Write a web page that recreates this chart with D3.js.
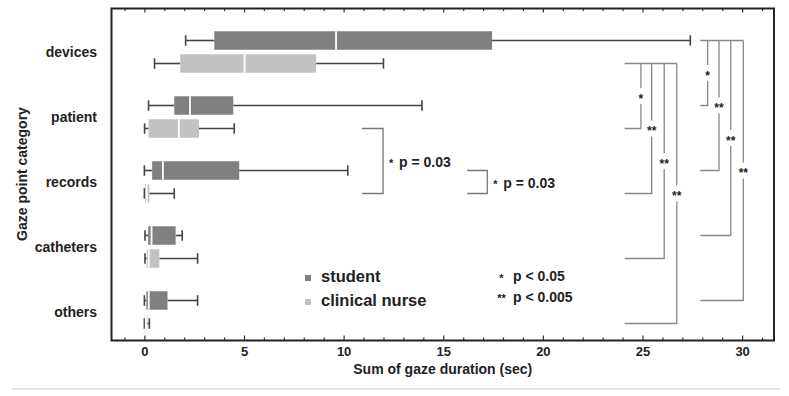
<!DOCTYPE html>
<html>
<head>
<meta charset="utf-8">
<script src="https://cdn.jsdelivr.net/npm/d3@7"></script>
<style>
  body { margin: 0; background: #fff; }
  text { font-family: "Liberation Sans", Arial, sans-serif; font-weight: bold; fill: #222; }
</style>
</head>
<body>
<svg id="chart" width="789" height="396"></svg>
<script>
// categories and groups
const categories = ["devices", "patient", "records", "catheters", "others"];
const groups = ["student", "clinical nurse"];

// box statistics (sec)
const studentMin    = [2.07, 0.21, 0.00, 0.03, 0.00];
const studentQ1     = [3.51, 1.50, 0.39, 0.19, 0.10];
const studentMedian = [9.62, 2.29, 0.93, 0.36, 0.22];
const studentQ3     = [17.45, 4.46, 4.76, 1.57, 1.16];
const studentMax    = [27.4, 13.93, 10.21, 1.90, 2.67];

const nurseMin    = [0.51, 0.01, 0.00, 0.03, 0.00];
const nurseQ1     = [1.80, 0.21, 0.03, 0.12, 0.02];
const nurseMedian = [5.03, 1.73, 0.12, 0.22, 0.08];
const nurseQ3     = [8.62, 2.74, 0.25, 0.75, 0.15];
const nurseMax    = [12.0, 4.51, 1.50, 2.67, 0.25];

// x axis ticks
const majorTicks = [0, 5, 10, 15, 20, 25, 30];
const minorTicks = d3.range(-1, 32).filter(d => d % 5 !== 0);

// significance: devices vs the other categories, within each group
const sigTargets = ["patient", "records", "catheters", "others"];
const nurseSigLabels = ["*", "**", "**", "**"];
const studentSigLabels = ["*", "**", "**", "**"];

// pairwise tests shown with p values
const pairFrom = [["patient", "clinical nurse"], ["records", "student"]];
const pairTo = [["records", "clinical nurse"], ["records", "clinical nurse"]];
const pairText = ["p = 0.03", "p = 0.03"];

// significance legend
const sigLegendStars = ["*", "**"];
const sigLegendText = ["p < 0.05", "p < 0.005"];

const colors = { "student": "#808080", "clinical nurse": "#c2c2c2" };

const svg = d3.select("#chart");
const plotLeft = 111.5, plotRight = 774, plotTop = 8.5, plotBottom = 340.5;

const x = d3.scaleLinear().domain([-1.65, 31.6]).range([plotLeft, plotRight]);
const y = d3.scalePoint().domain(categories).range([52, 312]);
const offset = d3.scalePoint().domain(groups).range([-11.5, 11.5]);
const boxH = 18.5, capH = 10.5;

const rows = [];
categories.forEach((c, i) => {
    rows.push({ cat: c, group: "student", min: studentMin[i], q1: studentQ1[i], med: studentMedian[i], q3: studentQ3[i], max: studentMax[i] });
    rows.push({ cat: c, group: "clinical nurse", min: nurseMin[i], q1: nurseQ1[i], med: nurseMedian[i], q3: nurseQ3[i], max: nurseMax[i] });
});
const cy = d => y(d.cat) + offset(d.group);

// axes (ticks point inward)
const axisG = svg.append("g");
axisG.append("g")
    .attr("transform", `translate(0,${plotBottom})`)
    .call(d3.axisBottom(x).tickValues(majorTicks).tickSize(-5).tickPadding(6))
    .call(g => g.select(".domain").remove())
    .call(g => g.selectAll("text").style("font-size", "13px").attr("fill", "#222"));
axisG.append("g")
    .attr("transform", `translate(0,${plotBottom})`)
    .call(d3.axisBottom(x).tickValues(minorTicks).tickSize(-3).tickFormat(""))
    .call(g => g.select(".domain").remove());
axisG.append("g")
    .attr("transform", `translate(0,${plotTop})`)
    .call(d3.axisTop(x).tickValues(majorTicks).tickSize(-4).tickFormat(""))
    .call(g => g.select(".domain").remove());
axisG.append("g")
    .attr("transform", `translate(0,${plotTop})`)
    .call(d3.axisTop(x).tickValues(minorTicks).tickSize(-2.5).tickFormat(""))
    .call(g => g.select(".domain").remove());
axisG.selectAll(".tick line").attr("stroke", "#333").attr("stroke-width", 1.2);

// frame
svg.append("rect")
    .attr("x", plotLeft).attr("y", plotTop)
    .attr("width", plotRight - plotLeft).attr("height", plotBottom - plotTop)
    .attr("fill", "none").attr("stroke", "#222").attr("stroke-width", 2);

// category labels
svg.append("g").selectAll("text")
    .data(categories)
    .join("text")
    .attr("x", 97)
    .attr("y", d => y(d))
    .attr("dy", "0.36em")
    .attr("text-anchor", "end")
    .style("font-size", "14px")
    .text(d => d);

// axis titles
svg.append("text")
    .attr("x", (plotLeft + plotRight) / 2)
    .attr("y", 374)
    .attr("text-anchor", "middle")
    .style("font-size", "14px")
    .text("Sum of gaze duration (sec)");

svg.append("text")
    .attr("transform", "translate(26.5,174) rotate(-90)")
    .attr("text-anchor", "middle")
    .style("font-size", "14px")
    .text("Gaze point category");

// boxplots
const boxes = svg.append("g").selectAll("g").data(rows).join("g");

boxes.append("line")
    .attr("x1", d => x(d.min)).attr("x2", d => x(d.q1))
    .attr("y1", cy).attr("y2", cy)
    .attr("stroke", "#444").attr("stroke-width", 1.6);
boxes.append("line")
    .attr("x1", d => x(d.q3)).attr("x2", d => x(d.max))
    .attr("y1", cy).attr("y2", cy)
    .attr("stroke", "#444").attr("stroke-width", 1.6);
boxes.selectAll(".cap")
    .data(d => [{ v: d.min, y: cy(d) }, { v: d.max, y: cy(d) }])
    .join("line")
    .attr("class", "cap")
    .attr("x1", d => x(d.v)).attr("x2", d => x(d.v))
    .attr("y1", d => d.y - capH / 2).attr("y2", d => d.y + capH / 2)
    .attr("stroke", "#444").attr("stroke-width", 1.6);
boxes.append("rect")
    .attr("x", d => x(d.q1))
    .attr("width", d => Math.max(1, x(d.q3) - x(d.q1)))
    .attr("y", d => cy(d) - boxH / 2)
    .attr("height", boxH)
    .attr("fill", d => colors[d.group]);
boxes.append("line")
    .attr("x1", d => x(d.med)).attr("x2", d => x(d.med))
    .attr("y1", d => cy(d) - boxH / 2).attr("y2", d => cy(d) + boxH / 2)
    .attr("stroke", "#fff").attr("stroke-width", 1.8);

// significance brackets: devices vs others within each group
function sigBracket(group, labels, xs, xLeft) {
    const g = svg.append("g");
    const y0 = y("devices") + offset(group);
    g.append("line")
        .attr("x1", x(xLeft)).attr("x2", x(xs[xs.length - 1]))
        .attr("y1", y0).attr("y2", y0)
        .attr("stroke", "#888").attr("stroke-width", 1.3);
    sigTargets.forEach((t, i) => {
        const y1 = y(t) + offset(group);
        const xv = x(xs[i]);
        const mid = (y0 + y1) / 2;
        g.append("polyline")
            .attr("points", `${xv},${y0} ${xv},${y1} ${x(xLeft)},${y1}`)
            .attr("fill", "none").attr("stroke", "#888").attr("stroke-width", 1.3);
        g.append("rect")
            .attr("x", xv - 7).attr("y", mid - 8)
            .attr("width", 14).attr("height", 16)
            .attr("fill", "#fff");
        g.append("text")
            .attr("x", xv).attr("y", mid + 6.8)
            .attr("text-anchor", "middle")
            .style("font-size", "12px")
            .text(labels[i]);
    });
}
sigBracket("clinical nurse", nurseSigLabels, [24.92, 25.46, 26.09, 26.72], 24.1);
sigBracket("student", studentSigLabels, [28.27, 28.84, 29.43, 30.06], 27.9);

// pairwise p-value brackets
const pairX = [[10.92, 11.98], [16.2, 17.21]];
pairText.forEach((txt, i) => {
    const ya = y(pairFrom[i][0]) + offset(pairFrom[i][1]);
    const yb = y(pairTo[i][0]) + offset(pairTo[i][1]);
    const [xa, xb] = pairX[i].map(x);
    svg.append("polyline")
        .attr("points", `${xa},${ya} ${xb},${ya} ${xb},${yb} ${xa},${yb}`)
        .attr("fill", "none").attr("stroke", "#777").attr("stroke-width", 1.3);
    const base = (ya + yb) / 2 + 5.5;
    svg.append("text").attr("x", xb + 6).attr("y", base)
        .style("font-size", "11px").text("*");
    svg.append("text").attr("x", xb + 16).attr("y", base)
        .style("font-size", "14px").text(txt);
});

// group legend
const legend = svg.append("g");
groups.forEach((gname, i) => {
    const ly = 281.5 + i * 24;
    legend.append("rect")
        .attr("x", 305).attr("y", ly - 6.5)
        .attr("width", 6).attr("height", 6)
        .attr("fill", colors[gname]);
    legend.append("text")
        .attr("x", 321).attr("y", ly)
        .style("font-size", "16.5px")
        .text(gname);
});

// significance legend
sigLegendText.forEach((txt, i) => {
    const ly = 281 + i * 20.7;
    legend.append("text")
        .attr("x", 501.5).attr("y", ly + 0.5)
        .attr("text-anchor", "middle")
        .style("font-size", "11px")
        .text(sigLegendStars[i]);
    legend.append("text")
        .attr("x", 513).attr("y", ly)
        .style("font-size", "14px")
        .text(txt);
});

// thin separator below the figure
svg.append("line")
    .attr("x1", 12).attr("x2", 780)
    .attr("y1", 389).attr("y2", 389)
    .attr("stroke", "#cfe0e0").attr("stroke-width", 1.5);
</script>
</body>
</html>
